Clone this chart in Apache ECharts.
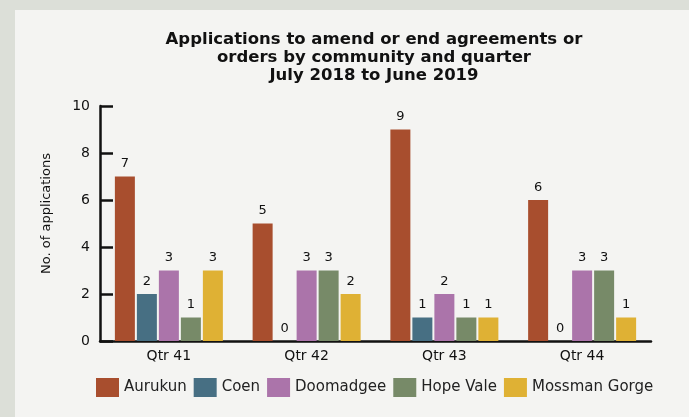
<!DOCTYPE html>
<html>
<head>
<meta charset="utf-8">
<script src="https://cdn.jsdelivr.net/npm/echarts@6/dist/echarts.min.js"></script>
<style>
  html, body { margin: 0; padding: 0; background: #dcdfd8; }
  #chart { width: 689px; height: 417px; }
</style>
</head>
<body>
<div id="chart"></div>
<script>
var quarters = ['Qtr 41', 'Qtr 42', 'Qtr 43', 'Qtr 44']
var aurukun = [7, 5, 9, 6]
var coen = [2, 0, 1, 0]
var doomadgee = [3, 3, 2, 3]
var hopeVale = [1, 3, 1, 3]
var mossman = [3, 2, 1, 1]

var font = 'DejaVu Sans, sans-serif'

function bar(name, data, color) {
  return {
    name: name,
    type: 'bar',
    data: data,
    barWidth: 20,
    barGap: '10%',
    itemStyle: { color: color },
    label: {
      show: true,
      position: 'top',
      distance: 6,
      color: '#111',
      fontSize: 13,
      fontFamily: font
    }
  }
}

var chart = echarts.init(document.getElementById('chart'))
chart.setOption({
  backgroundColor: 'transparent',
  animation: false,
  graphic: [{
    type: 'rect',
    left: 15, top: 10,
    shape: { width: 680, height: 410 },
    style: { fill: '#f4f4f2' },
    z: -10
  }],
  title: {
    text: 'Applications to amend or end agreements or\norders by community and quarter\nJuly 2018 to June 2019',
    left: 369,
    top: 26,
    textAlign: 'center',
    textStyle: {
      fontFamily: font,
      fontSize: 16.5,
      fontWeight: 'bold',
      color: '#111',
      lineHeight: 18
    }
  },
  legend: {
    top: 378,
    left: 96,
    padding: 0,
    itemWidth: 23,
    itemHeight: 19,
    itemGap: 7,
    icon: 'rect',
    textStyle: { fontFamily: font, fontSize: 15, color: '#222' }
  },
  grid: { left: 100, right: 38, top: 106, bottom: 76 },
  xAxis: {
    type: 'category',
    data: quarters,
    axisLine: { lineStyle: { color: '#111', width: 2.5 } },
    axisTick: { inside: true, length: 5, lineStyle: { color: '#111', width: 2 } },
    axisLabel: { color: '#111', fontSize: 14, fontFamily: font, margin: 8 }
  },
  yAxis: {
    type: 'value',
    min: 0,
    max: 10,
    interval: 2,
    name: 'No. of applications',
    nameLocation: 'middle',
    nameGap: 47,
    nameTextStyle: { color: '#111', fontSize: 13, fontFamily: font, padding: [0, 0, 0, 20] },
    axisLine: { show: true, lineStyle: { color: '#111', width: 2.5 } },
    axisTick: { show: true, inside: true, length: 13, lineStyle: { color: '#111', width: 2.5 } },
    axisLabel: { color: '#111', fontSize: 14, fontFamily: font, margin: 10 },
    splitLine: { show: false }
  },
  series: [
    bar('Aurukun', aurukun, '#a84e2e'),
    bar('Coen', coen, '#476f83'),
    bar('Doomadgee', doomadgee, '#ab74aa'),
    bar('Hope Vale', hopeVale, '#778a68'),
    bar('Mossman Gorge', mossman, '#dfb134')
  ]
})
</script>
</body>
</html>
